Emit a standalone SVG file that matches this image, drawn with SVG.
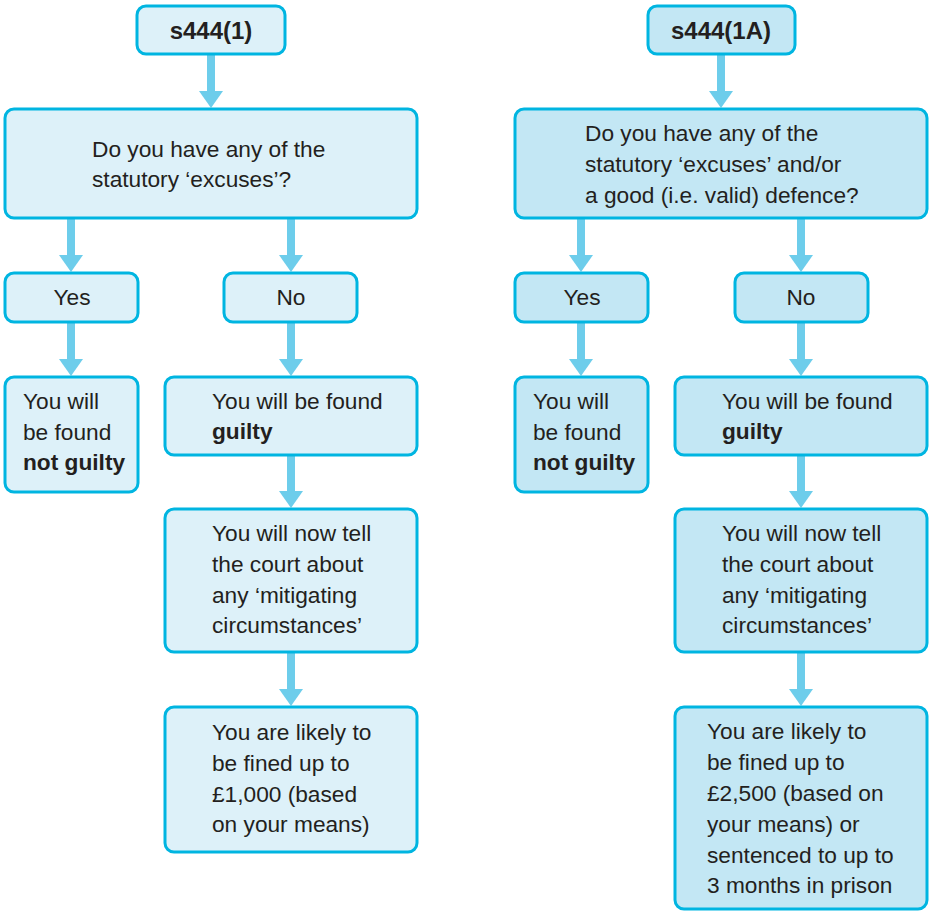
<svg xmlns="http://www.w3.org/2000/svg" width="930" height="912" viewBox="0 0 930 912">
<style>
.box{stroke:#00b5e1;stroke-width:3}
.l{fill:#ddf1f9}
.r{fill:#c3e7f4}
text{font-family:"Liberation Sans",Arial,sans-serif;font-size:22.7px;fill:#231f20}
.b{font-weight:bold}
.t{font-weight:bold;font-size:24px}
.c{text-anchor:middle}
.conn line{stroke:#6dcdeb;stroke-width:8;marker-end:url(#ah)}
</style>
<defs>
<marker id="ah" markerUnits="userSpaceOnUse" markerWidth="18" markerHeight="26" refX="0" refY="12" orient="auto" overflow="visible">
<path d="M0,0 L17,12 L0,24 Z" fill="#6dcdeb"/>
</marker>
</defs>
<rect width="930" height="912" fill="#fff"/>
<g class="conn" id="connectors">
<line x1="211" y1="55" x2="211" y2="91"/>
<line x1="71" y1="218" x2="71" y2="255"/>
<line x1="291" y1="218" x2="291" y2="255"/>
<line x1="71" y1="322" x2="71" y2="359"/>
<line x1="291" y1="322" x2="291" y2="359"/>
<line x1="291" y1="455" x2="291" y2="491"/>
<line x1="291" y1="652" x2="291" y2="689"/>
<line x1="721" y1="55" x2="721" y2="91"/>
<line x1="581" y1="218" x2="581" y2="255"/>
<line x1="801" y1="218" x2="801" y2="255"/>
<line x1="581" y1="322" x2="581" y2="359"/>
<line x1="801" y1="322" x2="801" y2="359"/>
<line x1="801" y1="455" x2="801" y2="491"/>
<line x1="801" y1="652" x2="801" y2="689"/>
</g>
<g id="n-s444-1"><rect class="box l" x="137" y="6" width="148" height="48" rx="9"/><text class="t c" x="211" y="39">s444(1)</text></g>
<g id="n-q1"><rect class="box l" x="5" y="109" width="412" height="109" rx="9"/><text x="92" y="157">Do you have any of the</text><text x="92" y="187">statutory ‘excuses’?</text></g>
<g id="n-yes1"><rect class="box l" x="5" y="273" width="133" height="49" rx="9"/><text class="c" x="72" y="305">Yes</text></g>
<g id="n-no1"><rect class="box l" x="224" y="273" width="133" height="49" rx="9"/><text class="c" x="291" y="305">No</text></g>
<g id="n-ng1"><rect class="box l" x="5" y="377" width="133" height="115" rx="9"/><text x="23" y="409">You will</text><text x="23" y="440">be found</text><text class="b" x="23" y="470">not guilty</text></g>
<g id="n-g1"><rect class="box l" x="165" y="377" width="252" height="78" rx="9"/><text x="212" y="409">You will be found</text><text class="b" x="212" y="439">guilty</text></g>
<g id="n-m1"><rect class="box l" x="165" y="509" width="252" height="143" rx="9"/><text x="212" y="541">You will now tell</text><text x="212" y="572">the court about</text><text x="212" y="603">any ‘mitigating</text><text x="212" y="633">circumstances’</text></g>
<g id="n-f1"><rect class="box l" x="165" y="707" width="252" height="145" rx="9"/><text x="212" y="740">You are likely to</text><text x="212" y="771">be fined up to</text><text x="212" y="802">£1,000 (based</text><text x="212" y="832">on your means)</text></g>
<g id="n-s444-1a"><rect class="box r" x="648" y="6" width="147" height="48" rx="9"/><text class="t c" x="721" y="39">s444(1A)</text></g>
<g id="n-q2"><rect class="box r" x="515" y="109" width="412" height="109" rx="9"/><text x="585" y="141">Do you have any of the</text><text x="585" y="172">statutory ‘excuses’ and/or</text><text x="585" y="203">a good (i.e. valid) defence?</text></g>
<g id="n-yes2"><rect class="box r" x="515" y="273" width="133" height="49" rx="9"/><text class="c" x="582" y="305">Yes</text></g>
<g id="n-no2"><rect class="box r" x="735" y="273" width="133" height="49" rx="9"/><text class="c" x="801" y="305">No</text></g>
<g id="n-ng2"><rect class="box r" x="515" y="377" width="133" height="115" rx="9"/><text x="533" y="409">You will</text><text x="533" y="440">be found</text><text class="b" x="533" y="470">not guilty</text></g>
<g id="n-g2"><rect class="box r" x="675" y="377" width="252" height="78" rx="9"/><text x="722" y="409">You will be found</text><text class="b" x="722" y="439">guilty</text></g>
<g id="n-m2"><rect class="box r" x="675" y="509" width="252" height="143" rx="9"/><text x="722" y="541">You will now tell</text><text x="722" y="572">the court about</text><text x="722" y="603">any ‘mitigating</text><text x="722" y="633">circumstances’</text></g>
<g id="n-f2"><rect class="box r" x="675" y="707" width="252" height="202" rx="9"/><text x="707" y="739">You are likely to</text><text x="707" y="770">be fined up to</text><text x="707" y="801">£2,500 (based on</text><text x="707" y="832">your means) or</text><text x="707" y="863">sentenced to up to</text><text x="707" y="893">3 months in prison</text></g>
</svg>
